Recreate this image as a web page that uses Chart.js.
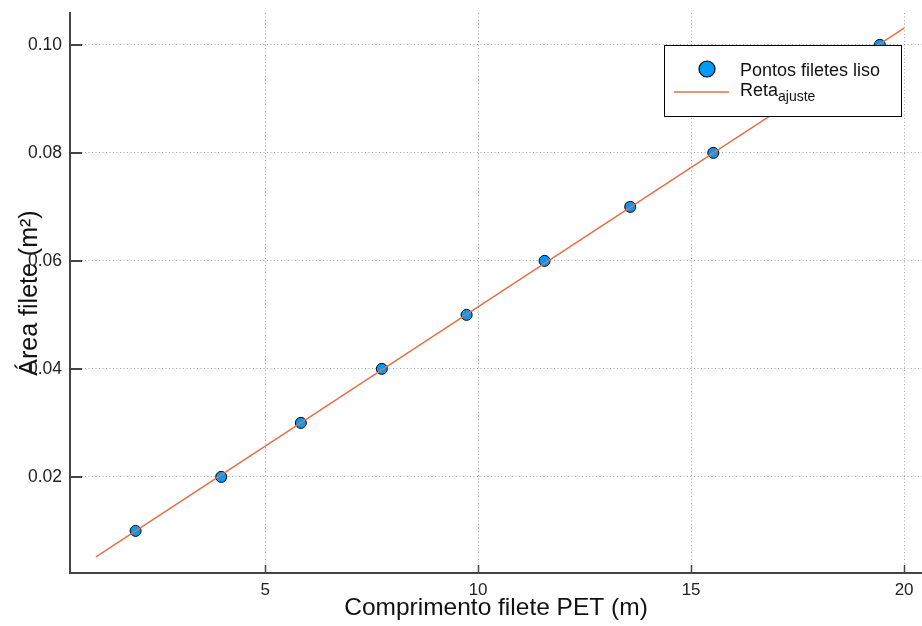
<!DOCTYPE html>
<html>
<head>
<meta charset="utf-8">
<script src="https://cdn.jsdelivr.net/npm/chart.js@4.4.1/dist/chart.umd.min.js"></script>
<style>
    html, body { margin: 0; padding: 0; background: #fff; overflow: hidden; }
    canvas { display: block; }
</style>
</head>
<body>
<canvas id="grafico" width="922" height="626"></canvas>
<script>
// Pontos medidos (comprimento em m, área em m²)
var comprimento = [1.96, 3.97, 5.84, 7.74, 9.73, 11.56, 13.57, 15.52, 17.5, 19.43];
var area = [0.01, 0.02, 0.03, 0.04, 0.05, 0.06, 0.07, 0.08, 0.09, 0.10];

// Reta de ajuste (extremos)
var retaX = [1.03, 20.0];
var retaY = [0.0052, 0.1031];

var xTicks = [5, 10, 15, 20];
var yTicks = [0.02, 0.04, 0.06, 0.08, 0.10];

var xMin = 0.42, xMax = 20.42;
var yMin = 0.0022, yMax = 0.1059;

var corPontos = '#009AFA';
var corReta = '#E36F47';
var fonte = "'Liberation Sans', Arial, sans-serif";

function toPoints(xs, ys) {
    return xs.map(function(x, i) { return { x: x, y: ys[i] }; });
}

function fixTicks(list) {
    return function(scale) {
        scale.ticks = list.map(function(v) { return { value: v }; });
    };
}

// sem folga extra para rótulos nas bordas
function fixSize(prop, size) {
    return function(s) {
        s[prop] = size;
        s.paddingLeft = 0; s.paddingRight = 0;
        s.paddingTop = 0; s.paddingBottom = 0;
    };
}

// marcas de escala para dentro + legenda dentro da área
var extras = {
    id: 'extras',
    afterDraw: function(chart) {
        var ctx = chart.ctx;
        var a = chart.chartArea;
        var sx = chart.scales.x, sy = chart.scales.y;
        ctx.save();
        ctx.strokeStyle = '#444';
        ctx.lineWidth = 1.5;
        xTicks.forEach(function(v) {
            var px = Math.round(sx.getPixelForValue(v)) + 0.5;
            ctx.beginPath();
            ctx.moveTo(px, a.bottom);
            ctx.lineTo(px, a.bottom - 8);
            ctx.stroke();
        });
        ctx.lineWidth = 2;
        yTicks.forEach(function(v) {
            var py = Math.round(sy.getPixelForValue(v));
            ctx.beginPath();
            ctx.moveTo(a.left, py);
            ctx.lineTo(a.left + 12, py);
            ctx.stroke();
        });

        // legenda
        var bx = 664, by = 45, bw = 237, bh = 71;
        ctx.fillStyle = '#fff';
        ctx.fillRect(bx, by, bw, bh);
        ctx.strokeStyle = '#000';
        ctx.lineWidth = 1;
        ctx.strokeRect(bx + 0.5, by + 0.5, bw, bh);

        ctx.beginPath();
        ctx.arc(bx + 43, by + 24, 8, 0, Math.PI * 2);
        ctx.fillStyle = corPontos;
        ctx.fill();
        ctx.lineWidth = 1.2;
        ctx.strokeStyle = '#000';
        ctx.stroke();

        ctx.beginPath();
        ctx.moveTo(bx + 10, by + 47);
        ctx.lineTo(bx + 65, by + 47);
        ctx.strokeStyle = corReta;
        ctx.lineWidth = 1.5;
        ctx.stroke();

        ctx.fillStyle = '#111';
        ctx.textAlign = 'left';
        ctx.textBaseline = 'alphabetic';
        ctx.font = '18px ' + fonte;
        ctx.fillText('Pontos filetes liso', bx + 76, by + 31);
        ctx.fillText('Reta', bx + 76, by + 51);
        var w = ctx.measureText('Reta').width;
        ctx.font = '14px ' + fonte;
        ctx.fillText('ajuste', bx + 76 + w, by + 56);
        ctx.restore();
    }
};

var ctx = document.getElementById('grafico').getContext('2d');
new Chart(ctx, {
    type: 'scatter',
    data: {
        datasets: [
            {
                label: 'Reta ajuste',
                data: toPoints(retaX, retaY),
                showLine: true,
                borderColor: corReta,
                backgroundColor: corReta,
                borderWidth: 1.5,
                pointRadius: 0
            },
            {
                label: 'Pontos filetes liso',
                data: toPoints(comprimento, area),
                backgroundColor: corPontos,
                borderColor: '#000',
                borderWidth: 1,
                pointRadius: 5.5
            }
        ]
    },
    options: {
        responsive: false,
        animation: false,
        layout: {
            autoPadding: false,
            padding: { top: 13, right: 0, left: 0, bottom: 0 }
        },
        plugins: {
            legend: { display: false },
            tooltip: { enabled: false }
        },
        scales: {
            x: {
                type: 'linear',
                min: xMin,
                max: xMax,
                afterBuildTicks: fixTicks(xTicks),
                afterFit: fixSize('height', 53),
                grid: { color: 'rgba(0,0,0,0.35)', lineWidth: 1, drawTicks: false },
                border: { display: true, color: '#444', width: 2, dash: [1, 2.5] },
                ticks: {
                    color: '#222',
                    padding: 7,
                    font: { size: 17, family: fonte },
                    callback: function(v) { return String(v); }
                },
                title: {
                    display: true,
                    text: 'Comprimento filete PET (m)',
                    color: '#111',
                    font: { size: 24.5, family: fonte },
                    padding: { top: 0, bottom: 3 }
                }
            },
            y: {
                type: 'linear',
                min: yMin,
                max: yMax,
                afterBuildTicks: fixTicks(yTicks),
                afterFit: fixSize('width', 70),
                grid: { color: 'rgba(0,0,0,0.35)', lineWidth: 1, drawTicks: false },
                border: { display: true, color: '#444', width: 2, dash: [1, 2.5] },
                ticks: {
                    color: '#222',
                    padding: 8,
                    font: { size: 17.5, family: fonte },
                    callback: function(v) { return v.toFixed(2); }
                },
                title: {
                    display: true,
                    text: 'Área filete (m²)',
                    color: '#111',
                    font: { size: 25, family: fonte },
                    padding: { top: 15, bottom: 0 }
                }
            }
        }
    },
    plugins: [extras]
});
</script>
</body>
</html>
